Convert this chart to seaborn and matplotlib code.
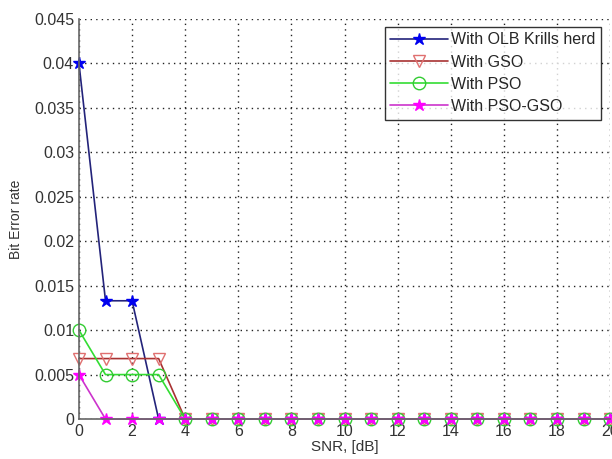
import matplotlib
matplotlib.use("Agg")
import matplotlib.pyplot as plt
import seaborn as sns
import pandas as pd
import numpy as np

snr_db = list(range(0, 21))
ber_olb_krill = [0.04, 0.0133, 0.0133] + [0.0] * 18
ber_gso = [0.0068, 0.0068, 0.0068, 0.0068] + [0.0] * 17
ber_pso = [0.01, 0.005, 0.005, 0.005] + [0.0] * 17
ber_pso_gso = [0.005] + [0.0] * 20

series_names = ["With OLB Krills herd", "With GSO", "With PSO", "With PSO-GSO"]
x_ticks = list(range(0, 21, 2))
y_ticks = [0, 0.005, 0.01, 0.015, 0.02, 0.025, 0.03, 0.035, 0.04, 0.045]
y_tick_labels = ["0", "0.005", "0.01", "0.015", "0.02", "0.025", "0.03", "0.035", "0.04", "0.045"]

df = pd.DataFrame({
    "SNR": snr_db * 4,
    "BER": ber_olb_krill + ber_gso + ber_pso + ber_pso_gso,
    "Method": sum([[n] * len(snr_db) for n in series_names], []),
})

sns.set_style("white")
plt.rcParams["font.family"] = ["Liberation Sans", "DejaVu Sans"]

fig = plt.figure(figsize=(6.12, 4.59), dpi=100)
ax = fig.add_axes([0.129, 0.087, 0.868, 0.872])

styles = {
    "With OLB Krills herd": dict(color="#23237a", marker="*", mfc="#0000ee", mec="#0000ee", ms=9),
    "With GSO": dict(color="#a83232", marker="v", mfc="none", mec="#e07070", ms=9),
    "With PSO": dict(color="#33dd33", marker="o", mfc="none", mec="#33cc33", ms=9),
    "With PSO-GSO": dict(color="#cc33cc", marker="*", mfc="#ff00ff", mec="#ff00ff", ms=9),
}

for name in series_names:
    st = styles[name]
    sns.lineplot(data=df[df["Method"] == name], x="SNR", y="BER", ax=ax,
                 color=st["color"], marker=st["marker"], markerfacecolor=st["mfc"],
                 markeredgecolor=st["mec"], markersize=st["ms"], markeredgewidth=1.0,
                 linewidth=1.2, label=name, clip_on=False)

ax.set_xlim(0, 20)
ax.set_ylim(0, 0.045)
ax.set_xticks(x_ticks)
ax.set_yticks(y_ticks)
ax.set_yticklabels(y_tick_labels)
ax.tick_params(axis="both", labelsize=11.5, colors="#333333", direction="in", length=4)
ax.grid(True, linestyle=(0, (1, 3)), color="#222222", linewidth=1.0)
for side in ["top", "right"]:
    ax.spines[side].set_visible(False)
for side in ["left", "bottom"]:
    ax.spines[side].set_color("#666666")
    ax.spines[side].set_linewidth(1.2)
ax.set_xlabel("SNR, [dB]", fontsize=11, color="#333333", labelpad=1)
ax.set_ylabel("Bit Error rate", fontsize=10, color="#333333", labelpad=8)

leg = ax.legend(loc="upper right", fontsize=11.5, frameon=True, fancybox=False,
                edgecolor="black", borderpad=0.35, labelspacing=0.45,
                handlelength=3.6, handletextpad=0.2, bbox_to_anchor=(0.998, 1.0))
leg.get_frame().set_linewidth(1.0)

fig.savefig("out.png", dpi=100)
